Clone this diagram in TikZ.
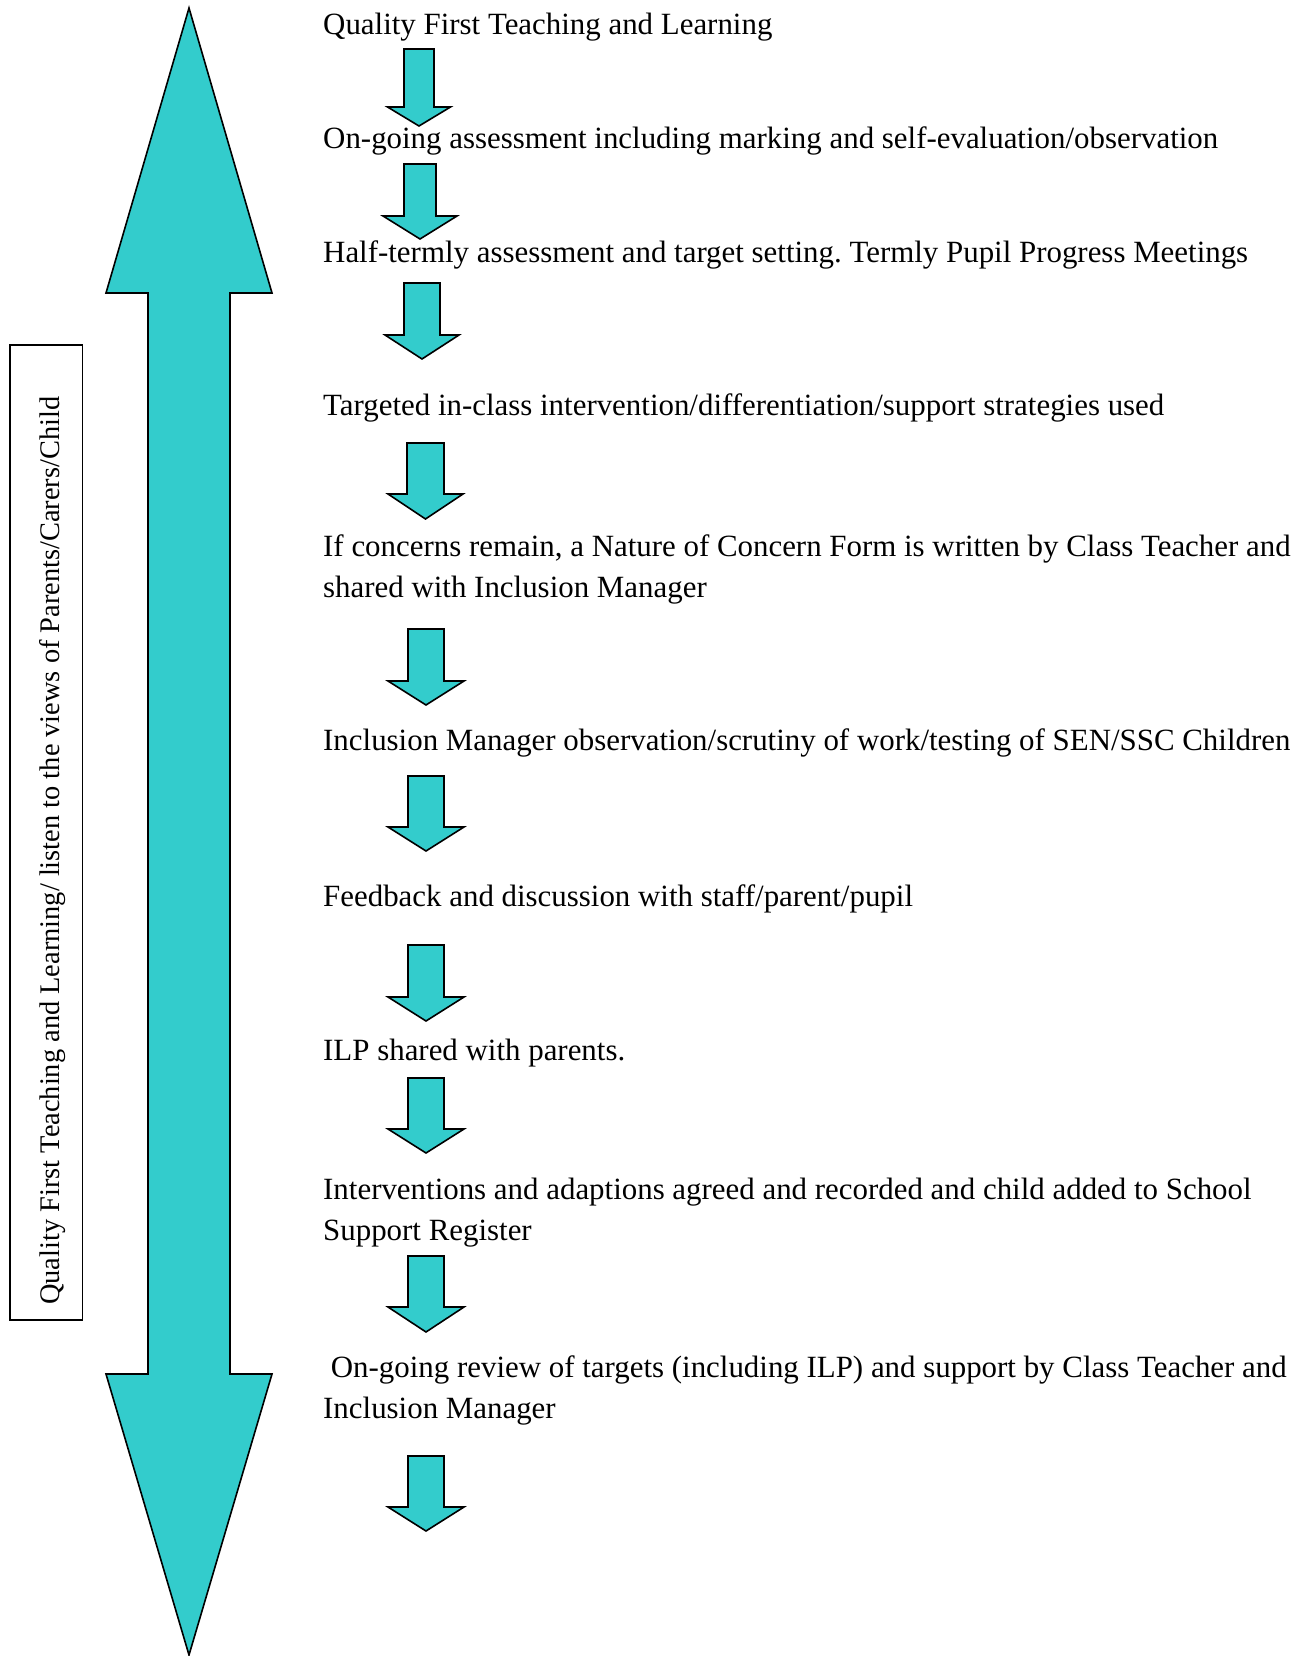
\documentclass[tikz,border=0pt]{standalone}
\usepackage{fontspec}
\setmainfont{Liberation Serif}
\definecolor{turq}{RGB}{51,204,204}
\tikzset{
  stage/.style={anchor=base west, inner sep=0pt, align=left, font=\fontsize{30.9}{41}\selectfont\frenchspacing},
  sidelabel/.style={anchor=base west, inner sep=0pt, rotate=90, font=\fontsize{28.4}{36}\selectfont\frenchspacing},
  blockarrow/.style={fill=turq, draw=black, line width=1.6pt, line join=miter},
  framebox/.style={draw=black, line width=1.6pt},
}
\newcommand\flowarrow[6]{% cx top base tip shafthalf headhalf
  \draw[blockarrow] ({#1-#5},#2) -- ({#1+#5},#2) -- ({#1+#5},#3) -- ({#1+#6},#3) -- (#1,#4) -- ({#1-#6},#3) -- ({#1-#5},#3) -- cycle;
}
\begin{document}
\begin{tikzpicture}[x=1pt,y=-1pt]
\useasboundingbox (0,0) rectangle (1300,1656);
% big double arrow
\draw[blockarrow] (189,8) -- (272,293) -- (230,293) -- (230,1374) -- (272,1374) -- (189,1655)
  -- (106,1374) -- (148,1374) -- (148,293) -- (106,293) -- cycle;
% side label box
\draw[framebox] (10,345) rectangle (82.5,1320);
\node[sidelabel] (side) at (59,1305) {Quality First Teaching and Learning/ listen to the views of Parents/Carers/Child};
% stages (base = baseline of last line)
\node[stage] (t1) at (323,35) {Quality First Teaching and Learning};
\node[stage] (t2) at (323,149) {On-going assessment including marking and self-evaluation/observation};
\node[stage] (t3) at (323,262) {Half-termly assessment and target setting. Termly Pupil Progress Meetings};
\node[stage] (t4) at (323,415) {Targeted in-class intervention/differentiation/support strategies used};
\node[stage] (t5) at (323,597) {If concerns remain, a Nature of Concern Form is written by Class Teacher and\\shared with Inclusion Manager};
\node[stage] (t6) at (323,750) {Inclusion Manager observation/scrutiny of work/testing of SEN/SSC Children};
\node[stage] (t7) at (323,906) {Feedback and discussion with staff/parent/pupil};
\node[stage] (t8) at (323,1060) {ILP shared with parents.};
\node[stage] (t9) at (323,1240) {Interventions and adaptions agreed and recorded and child added to School\\Support Register};
\node[stage] (t10) at (323,1418) {\ On-going review of targets (including ILP) and support by Class Teacher and\\Inclusion Manager};
% small arrows
\flowarrow{419}{49}{107}{126}{15}{31.5}
\flowarrow{420}{164}{216}{239}{16}{37}
\flowarrow{422}{283}{335}{359}{18}{37}
\flowarrow{425.5}{443}{494}{519}{18.5}{37.5}
\flowarrow{426}{629}{681}{705}{18}{38}
\flowarrow{426}{776}{827}{851}{18}{38}
\flowarrow{426}{945}{997}{1021}{18}{38}
\flowarrow{426}{1078}{1129}{1153}{18}{38}
\flowarrow{426}{1256}{1307}{1332}{18}{38}
\flowarrow{426}{1456}{1507}{1531}{18}{38}
\end{tikzpicture}
\end{document}
